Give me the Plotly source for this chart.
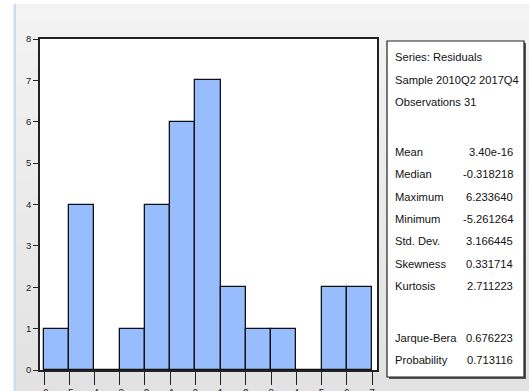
import plotly.graph_objects as go

# Histogram of residuals: bin left edges and counts (bin width 1)
bin_left = [-6, -5, -4, -3, -2, -1, 0, 1, 2, 3, 4, 5, 6]
counts = [1, 4, 0, 1, 4, 6, 7, 2, 1, 1, 0, 2, 2]
x_ticks = [-6, -5, -4, -3, -2, -1, 0, 1, 2, 3, 4, 5, 6, 7]
y_ticks = [0, 1, 2, 3, 4, 5, 6, 7, 8]

# Descriptive statistics panel
header_lines = ["Series: Residuals", "Sample 2010Q2 2017Q4", "Observations 31"]
stat_names = ["Mean", "Median", "Maximum", "Minimum", "Std. Dev.", "Skewness", "Kurtosis"]
stat_values = ["3.40e-16", "-0.318218", "6.233640", "-5.261264", "3.166445", "0.331714", "2.711223"]
test_names = ["Jarque-Bera", "Probability"]
test_values = ["0.676223", "0.713116"]

W, H = 529, 391
L, R, T, B = 40, 377, 39, 370  # plot area in pixels


def px(x):
    return (x - L) / (R - L)


def py(y):
    return (B - y) / (B - T)


fig = go.Figure()
fig.add_trace(go.Bar(
    x=bin_left, y=counts, width=1, offset=0,
    marker=dict(color="#97BDFE", line=dict(color="#111111", width=1.3)),
    hoverinfo="skip",
))

shapes = []
# page background: white strip on left, thin blue rule, gray gradient
shapes.append(dict(type="rect", xref="paper", yref="paper", layer="below",
                   x0=px(0), x1=px(W), y0=py(H), y1=py(0),
                   fillcolor="#ffffff", line=dict(width=0)))
n_bands = 24
top_c, bot_c = 243, 226
for i in range(n_bands):
    y0 = 4 + (H - 4) * i / n_bands
    y1 = 4 + (H - 4) * (i + 1) / n_bands + 0.5
    c = round(top_c + (bot_c - top_c) * i / (n_bands - 1))
    shapes.append(dict(type="rect", xref="paper", yref="paper", layer="below",
                       x0=px(16), x1=px(W), y0=py(y1), y1=py(y0),
                       fillcolor=f"rgb({c},{c},{c})", line=dict(width=0)))
shapes.append(dict(type="rect", xref="paper", yref="paper", layer="below",
                   x0=px(13.5), x1=px(16), y0=py(H), y1=py(4),
                   fillcolor="#c9dcf2", line=dict(width=0)))
# plot area
shapes.append(dict(type="rect", xref="paper", yref="paper", layer="below",
                   x0=0, x1=1, y0=0, y1=1, fillcolor="#ffffff", line=dict(width=0)))

# statistics box with shadow
bx0, by0, bx1, by1 = 387, 41, 524, 377
shapes.append(dict(type="rect", xref="paper", yref="paper",
                   x0=px(bx0 + 2), x1=px(bx1 + 2), y0=py(by1 + 2), y1=py(by0 + 2),
                   fillcolor="#555555", line=dict(width=0)))
shapes.append(dict(type="rect", xref="paper", yref="paper",
                   x0=px(bx0), x1=px(bx1), y0=py(by1), y1=py(by0),
                   fillcolor="#ffffff", line=dict(color="#222222", width=1.2)))

annotations = []
font = dict(family="Arial, Liberation Sans", size=11.2, color="#111111")
lx, rx = 393, 515
for i, t in enumerate(header_lines):
    annotations.append(dict(text=t, x=px(lx), y=py(57 + 22.5 * i), xref="paper", yref="paper",
                            xanchor="left", yanchor="middle", showarrow=False, font=font))
for i, (n, v) in enumerate(zip(stat_names, stat_values)):
    yy = 152 + 22.3 * i
    annotations.append(dict(text=n, x=px(lx), y=py(yy), xref="paper", yref="paper",
                            xanchor="left", yanchor="middle", showarrow=False, font=font))
    annotations.append(dict(text=v, x=px(rx), y=py(yy), xref="paper", yref="paper",
                            xanchor="right", yanchor="middle", showarrow=False, font=font))
for i, (n, v) in enumerate(zip(test_names, test_values)):
    yy = 338 + 22 * i
    annotations.append(dict(text=n, x=px(lx), y=py(yy), xref="paper", yref="paper",
                            xanchor="left", yanchor="middle", showarrow=False, font=font))
    annotations.append(dict(text=v, x=px(rx), y=py(yy), xref="paper", yref="paper",
                            xanchor="right", yanchor="middle", showarrow=False, font=font))

bin_px = (372 - 44) / 13
fig.update_layout(
    width=W, height=H,
    margin=dict(l=L, r=W - R, t=T, b=H - B, pad=0, autoexpand=False),
    paper_bgcolor="#ffffff", plot_bgcolor="rgba(0,0,0,0)",
    showlegend=False, bargap=0,
    shapes=shapes, annotations=annotations,
    xaxis=dict(range=[-6 - (44 - L) / bin_px, 7 + (R - 372) / bin_px],
               tickvals=x_ticks, ticktext=[str(v) for v in x_ticks],
               ticks="outside", ticklen=13, tickwidth=1.2, tickcolor="#222222",
               showline=True, mirror=True, linecolor="#222222", linewidth=1.6,
               showgrid=False, zeroline=False, automargin=False,
               tickfont=dict(family="Arial", size=10, color="#222222")),
    yaxis=dict(range=[0, 8], tickvals=y_ticks,
               ticks="outside", ticklen=5, tickwidth=1.2, tickcolor="#222222",
               showline=True, mirror=True, linecolor="#222222", linewidth=1.6,
               showgrid=False, zeroline=False, automargin=False,
               tickfont=dict(family="Arial Black, Arial", size=9.5, color="#222222")),
)

fig.write_html("out.html")
